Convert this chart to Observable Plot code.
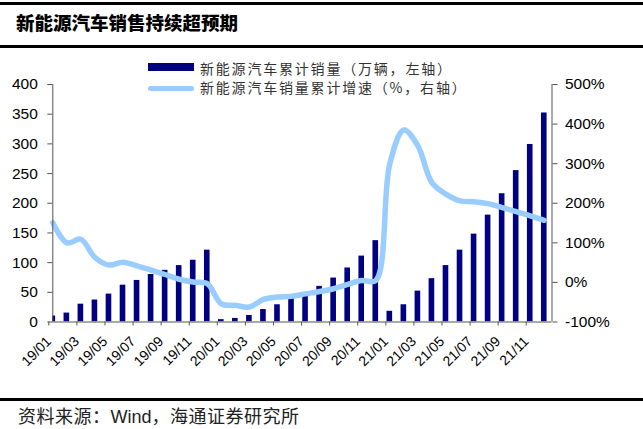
<!DOCTYPE html>
<html>
<head>
<meta charset="utf-8">
<script src="https://cdn.jsdelivr.net/npm/d3@7"></script>
<script src="https://cdn.jsdelivr.net/npm/@observablehq/plot@0.6"></script>
<style>
  html, body { margin: 0; padding: 0; background: #fff; }
  #wrap { position: relative; width: 643px; height: 429px; overflow: hidden; background: #fff; }
  .rule { position: absolute; left: 0; width: 643px; height: 3px; background: #000; }
  #title { position: absolute; left: 16px; top: 9px; font-family: "Noto Sans CJK SC"; font-weight: 900; font-size: 18.5px; color: #000; white-space: nowrap; }
  .leg { position: absolute; left: 148px; font-family: "Noto Sans CJK SC"; font-weight: 400; font-size: 14px; letter-spacing: 1.8px; color: #333; white-space: nowrap; }
  .leg span.sw { position: absolute; left: 0; }
  .leg span.tx { position: absolute; left: 52px; top: 0; }
  #chart { position: absolute; left: 0; top: 50px; }
  #foot { position: absolute; left: 18px; top: 402px; font-family: "Noto Sans CJK SC"; font-size: 18px; letter-spacing: 0.5px; color: #222; white-space: nowrap; }
  #foot .w { font-family: "Liberation Sans"; letter-spacing: 0; }
</style>
</head>
<body>
<div id="wrap">
  <div class="rule" style="top:2px"></div>
  <div id="title">新能源汽车销售持续超预期</div>
  <div class="rule" style="top:45px"></div>
  <div id="chart"></div>
  <div class="leg" style="top:58px;">
    <span class="sw" style="top:5px;width:46px;height:8px;background:#000080;"></span>
    <span class="tx">新能源汽车累计销量（万辆，左轴）</span>
  </div>
  <div class="leg" style="top:77px;">
    <span class="sw" style="top:9px;width:46px;height:5px;border-radius:3px;background:#99ccff;"></span>
    <span class="tx">新能源汽车销量累计增速（%，右轴）</span>
  </div>
  <div class="rule" style="top:398px"></div>
  <div id="foot">资料来源：<span class="w">Wind</span>，海通证券研究所</div>
</div>
<script>
// Months (categories)
const months = [
  "19/01","19/02","19/03","19/04","19/05","19/06","19/07","19/08","19/09","19/10","19/11","19/12",
  "20/01","20/02","20/03","20/04","20/05","20/06","20/07","20/08","20/09","20/10","20/11","20/12",
  "21/01","21/02","21/03","21/04","21/05","21/06","21/07","21/08","21/09","21/10","21/11","21/12"
];
// Cumulative NEV sales (10k units, left axis)
const sales = [
  10, 15, 30, 37, 47, 62, 70, 80, 87, 95, 104, 121,
  4, 6, 11, 21, 29, 40, 48, 60, 74, 91, 111, 137,
  18, 29, 52, 73, 95, 121, 148, 180, 216, 255, 299, 352
];
// Cumulative growth (%, right axis)
const growth = [
  151, 100, 109, 63, 44, 51, 42, 31, 20, 8, 1, -3,
  -54, -58, -62, -43, -37, -35, -29, -23, -16, -5, 5, 5,
  300, 385, 345, 252, 223, 206, 204, 199, 189, 179, 168, 157
];
const leftTicks = [0, 50, 100, 150, 200, 250, 300, 350, 400];
const rightTicks = [-100, 0, 100, 200, 300, 400, 500];
const xTickLabels = months.filter((m, i) => i % 2 === 0);

const leftMax = 400, rMin = -100, rMax = 500;
const toLeft = p => (p - rMin) / (rMax - rMin) * leftMax;
const fromLeft = v => v / leftMax * (rMax - rMin) + rMin;

const data = months.map((m, i) => ({i, m, sales: sales[i], growth: growth[i]}));
const xMax = months.length - 1 + 0.55;
const axisFont = "Liberation Sans, Arial, sans-serif";

const chart = Plot.plot({
  width: 643,
  height: 345,
  marginLeft: 52.3,
  marginRight: 643 - 551.5,
  marginTop: 34,
  marginBottom: 73.5,
  style: {fontFamily: axisFont, color: "#000", background: "transparent"},
  x: {domain: [0, xMax], axis: null},
  y: {domain: [0, leftMax], axis: null},
  marks: [
    Plot.rectY(data, {x1: d => d.i - 0.2, x2: d => d.i + 0.2, y: "sales", fill: "#000080", clip: true}),
    Plot.line(data, {x: "i", y: d => toLeft(d.growth), stroke: "#99ccff", strokeWidth: 5.5, curve: "catmull-rom"}),
    Plot.ruleX([0], {stroke: "#555", strokeWidth: 1}),
    Plot.ruleX([xMax], {stroke: "#555", strokeWidth: 1}),
    Plot.ruleY([0], {stroke: "#555", strokeWidth: 1}),
    Plot.axisY({anchor: "left", ticks: leftTicks, tickSize: 5, tickPadding: 10, fontSize: 15.5, stroke: "#555", fill: "#000", label: null, tickFormat: d => String(d)}),
    Plot.axisY({anchor: "right", ticks: rightTicks.map(toLeft), tickSize: 5, tickPadding: 8, fontSize: 15.5, stroke: "#555", fill: "#000", label: null, tickFormat: v => Math.round(fromLeft(v)) + "%"}),
    Plot.axisX({anchor: "bottom", ticks: xTickLabels.map(l => months.indexOf(l)), tickSize: 4, tickPadding: 13, dx: -4, tickRotate: -45, fontSize: 14, stroke: "#555", fill: "#000", label: null, tickFormat: i => months[i]})
  ]
});
document.getElementById("chart").appendChild(chart);
</script>
</body>
</html>
